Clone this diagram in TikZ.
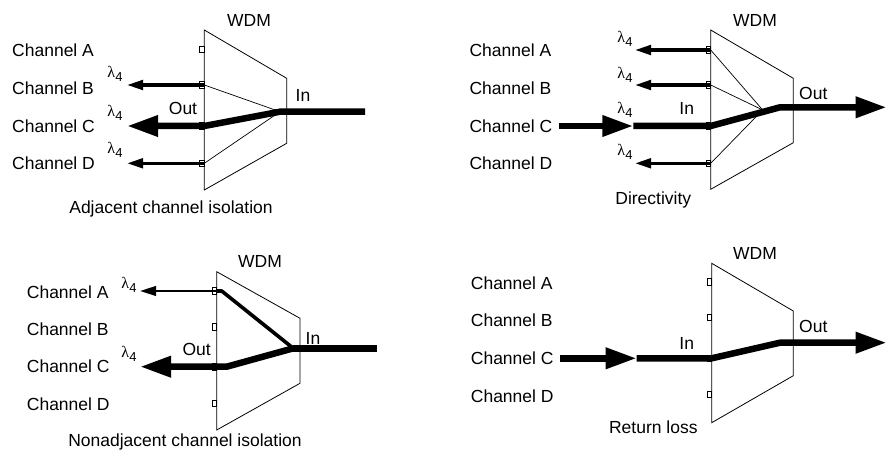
\documentclass[tikz,border=0pt]{standalone}
\usepackage{fontspec}
\setmainfont{Liberation Sans}
\newfontfamily\lamfont{Liberation Serif}
\usetikzlibrary{arrows.meta,calc}
\newcommand{\lamfour}{{\fontsize{16}{18}\selectfont\lamfont λ}\kern0.2pt\raisebox{-4pt}{\fontsize{13}{15}\selectfont 4}}
\begin{document}
\begin{tikzpicture}[x=1pt,y=-1pt,
  lbl/.style={inner sep=0pt, font=\fontsize{17.5}{20}\selectfont},
  chan/.style={lbl, anchor=west},
  capt/.style={lbl, anchor=base},
  lam/.style={inner sep=0pt},
  wdm/.style={draw, line width=0.8pt, line join=miter},
  port/.style={draw, line width=0.7pt, fill=white},
  fine/.style={line width=0.7pt},
  sig/.style={line width=3.2pt, -{Triangle[length=16pt,width=9.5pt]}},
  main/.style={line width=6.5pt, line join=round},
  bigarrow/.style={-{Triangle[length=31pt,width=20pt]}},
]
\useasboundingbox (0,0) rectangle (887,457);

% ---------- Adjacent channel isolation ----------
\draw[wdm] (204.3,30) -- (286.7,78.3) -- (286.7,143.3) -- (204.3,190) -- cycle;
\coordinate (aA) at (204.3,49.3);
\coordinate (aB) at (204.3,85);
\coordinate (aC) at (204.3,126);
\coordinate (aD) at (204.3,163.3);
\coordinate (aF) at (280,111.7);
\coordinate (aIn) at (365,111.7);
\coordinate (aTB) at (127,85);
\coordinate (aTC) at (127,126);
\coordinate (aTD) at (127,163.3);
\draw[fine] (aF) -- (aB);
\draw[fine] (aF) -- (aD);
\foreach \p in {aA,aB,aC,aD} \draw[port] ($(\p)+(-4.5,-3.2)$) rectangle ($(\p)+(0,3.2)$);
\draw[sig] (aB) -- (aTB);
\draw[sig] (aD) -- (aTD);
\draw[main, bigarrow] (aIn) -- (aF) -- (aC) -- (aTC);
\node[lbl] (aW) at (249,20) {WDM};
\node[chan] (aLA) at (12,50.7) {Channel A};
\node[chan] (aLB) at (12,88.3) {Channel B};
\node[chan] (aLC) at (12,126) {Channel C};
\node[chan] (aLD) at (12,163.3) {Channel D};
\node[lam] (aLamB) at (115,73.5) {\lamfour};
\node[lam] (aLamC) at (115,112.5) {\lamfour};
\node[lam] (aLamD) at (115,150) {\lamfour};
\node[lbl] (aOut) at (183,108) {Out};
\node[lbl] (aInL) at (303,95) {In};
\node[capt] (aCap) at (171,213.3) {Adjacent channel isolation};

% ---------- Directivity ----------
\draw[wdm] (710.7,30) -- (793.3,78.3) -- (793.3,142.7) -- (710.7,189.3) -- cycle;
\coordinate (dA) at (710.7,50);
\coordinate (dB) at (710.7,85);
\coordinate (dC) at (710.7,126);
\coordinate (dD) at (710.7,163.3);
\coordinate (dF) at (762.7,110);
\coordinate (dK) at (780,107.3);
\coordinate (dOut) at (886.7,107.3);
\coordinate (dS) at (559.3,126);
\coordinate (dM) at (633.3,126);
\coordinate (dTA) at (635,50);
\coordinate (dTB) at (635,85);
\coordinate (dTD) at (635,163.3);
\draw[fine] (dF) -- (dA);
\draw[fine] (dF) -- (dB);
\draw[fine] (dF) -- (dD);
\foreach \p in {dA,dB,dC,dD} \draw[port] ($(\p)+(-4.5,-3.2)$) rectangle ($(\p)+(0,3.2)$);
\draw[sig] (dA) -- (dTA);
\draw[sig] (dB) -- (dTB);
\draw[sig] (dD) -- (dTD);
\draw[main, bigarrow] (dS) -- (dM);
\draw[main, bigarrow] (dM) -- (dC) -- (dK) -- (dOut);
\node[lbl] (dW) at (755,20) {WDM};
\node[chan] (dLA) at (469.3,50.7) {Channel A};
\node[chan] (dLB) at (469.3,88.3) {Channel B};
\node[chan] (dLC) at (469.3,126) {Channel C};
\node[chan] (dLD) at (469.3,163.3) {Channel D};
\node[lam] (dLamA) at (625,39) {\lamfour};
\node[lam] (dLamB) at (625,74.5) {\lamfour};
\node[lam] (dLamC) at (625,110) {\lamfour};
\node[lam] (dLamD) at (625,151.5) {\lamfour};
\node[lbl] (dInL) at (686.7,108) {In};
\node[lbl] (dOutL) at (813.3,93) {Out};
\node[capt] (dCap) at (653.3,205) {Directivity};

% ---------- Nonadjacent channel isolation ----------
\draw[wdm] (216.7,271.7) -- (300,318.3) -- (300,383.3) -- (216.7,430) -- cycle;
\coordinate (nA) at (216.7,291);
\coordinate (nB) at (216.7,326.7);
\coordinate (nC) at (216.7,366.7);
\coordinate (nD) at (216.7,403.3);
\coordinate (nF) at (293.3,348.3);
\coordinate (nIn) at (376.7,348.3);
\coordinate (nKA) at (221.7,291);
\coordinate (nKC) at (226.7,366.7);
\coordinate (nTA) at (140,291);
\coordinate (nTC) at (140,366.7);
\foreach \p in {nA,nB,nC,nD} \draw[port] ($(\p)+(-4.5,-3.2)$) rectangle ($(\p)+(0,3.2)$);
\draw[line width=3.6pt, line join=round] (nF) -- (nKA) -- (nA);
\draw[sig, line width=2.6pt] (nA) -- (nTA);
\draw[main] (nIn) -- (nF);
\draw[main, bigarrow] (nF) -- (nKC) -- (nC) -- (nTC);
\node[lbl] (nW) at (260,261.7) {WDM};
\node[chan] (nLA) at (26.7,292.7) {Channel A};
\node[chan] (nLB) at (26.7,329.3) {Channel B};
\node[chan] (nLC) at (26.7,366.7) {Channel C};
\node[chan] (nLD) at (26.7,404) {Channel D};
\node[lam] (nLamA) at (129,285) {\lamfour};
\node[lam] (nLamC) at (129,354) {\lamfour};
\node[lbl] (nOut) at (196.7,349.3) {Out};
\node[lbl] (nInL) at (313,338.3) {In};
\node[capt] (nCap) at (185,446) {Nonadjacent channel isolation};

% ---------- Return loss ----------
\draw[wdm] (711.7,263.3) -- (793.3,311) -- (793.3,375.7) -- (711.7,422.7) -- cycle;
\coordinate (rA) at (711.7,281.7);
\coordinate (rB) at (711.7,317.3);
\coordinate (rC) at (711.7,358.3);
\coordinate (rD) at (711.7,394.3);
\coordinate (rS) at (560,358.3);
\coordinate (rM) at (636.7,358.3);
\coordinate (rK) at (780,342.7);
\coordinate (rOut) at (886.7,342.7);
\foreach \p in {rA,rB,rC,rD} \draw[port] ($(\p)+(-4.5,-3.2)$) rectangle ($(\p)+(0,3.2)$);
\draw[main, bigarrow] (rS) -- (rM);
\draw[main, bigarrow] (rM) -- (rC) -- (rK) -- (rOut);
\node[lbl] (rW) at (755,253.3) {WDM};
\node[chan] (rLA) at (470.7,283.3) {Channel A};
\node[chan] (rLB) at (470.7,320) {Channel B};
\node[chan] (rLC) at (470.7,358.3) {Channel C};
\node[chan] (rLD) at (470.7,396) {Channel D};
\node[lbl] (rInL) at (686.7,343.3) {In};
\node[lbl] (rOutL) at (813.3,326.7) {Out};
\node[capt] (rCap) at (653.3,433.3) {Return loss};
\end{tikzpicture}
\end{document}
